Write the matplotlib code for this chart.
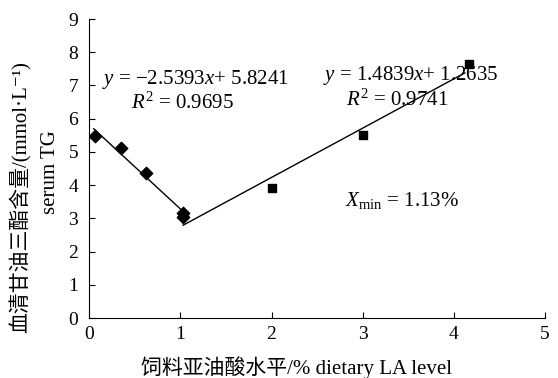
import matplotlib
matplotlib.use("Agg")
import matplotlib.pyplot as plt
import numpy as np

plt.rcParams["font.family"] = ["Liberation Serif", "Noto Sans CJK SC", "DejaVu Sans"]
plt.rcParams["mathtext.fontset"] = "custom"
plt.rcParams["mathtext.rm"] = "Liberation Serif"
plt.rcParams["mathtext.it"] = "Liberation Serif:italic"

# measured points
la_low = [0.06, 0.35, 0.62, 1.03, 1.03]
tg_low = [5.47, 5.13, 4.35, 3.15, 3.04]
la_high = [2.0, 3.0, 4.16]
tg_high = [3.9, 5.5, 7.65]

# fitted lines: slope, intercept, x range
fit_low = (-2.5393, 5.8241, 0.05, 1.03)
fit_high = (1.4839, 1.2635, 1.03, 4.12)

x_ticks = [0, 1, 2, 3, 4, 5]
y_ticks = [0, 1, 2, 3, 4, 5, 6, 7, 8, 9]

fig = plt.figure(figsize=(5.58, 3.78), dpi=100)
ax = fig.add_axes([0.1597, 0.1587, 0.8172, 0.791])

ax.scatter(la_low, tg_low, marker="D", s=40, color="black", zorder=5)
ax.scatter(la_high, tg_high, marker="s", s=32, color="black", zorder=5)

for k, b, x0, x1 in (fit_low, fit_high):
    xs = np.array([x0, x1])
    ax.plot(xs, k * xs + b, color="black", lw=1.0)

ax.set_xlim(0, 5)
ax.set_ylim(0, 9)
ax.set_xticks(x_ticks)
ax.set_yticks(y_ticks)
ax.tick_params(direction="in", length=4, width=0.8, labelsize=14)
ax.tick_params(axis="y", pad=8)
ax.tick_params(axis="x", pad=6)
for s in ("top", "right"):
    ax.spines[s].set_visible(False)
for s in ("left", "bottom"):
    ax.spines[s].set_linewidth(0.8)

fs = 15
ax.text(1.16, 7.17, r"$y$ = −2.5393$x$+ 5.8241", fontsize=fs, ha="center", va="center")
ax.text(1.02, 6.48, r"$R^2$ = 0.9695", fontsize=fs, ha="center", va="center")
ax.text(3.53, 7.29, r"$y$ = 1.4839$x$+ 1.2635", fontsize=fs, ha="center", va="center")
ax.text(3.38, 6.57, r"$R^2$ = 0.9741", fontsize=fs, ha="center", va="center")
ax.text(3.43, 3.55, r"$X_{\rm min}$ = 1.13%", fontsize=fs, ha="center", va="center")

fig.text(0.037, 0.479, "血清甘油三酯含量/(mmol·L⁻¹)", rotation=90,
         fontsize=15, ha="center", va="center")
fig.text(0.09, 0.545, "serum TG", rotation=90, fontsize=15,
         ha="center", va="center")
fig.text(0.532, 0.027, "饲料亚油酸水平/% dietary LA level", fontsize=15,
         ha="center", va="center")

fig.savefig("out.png", dpi=100)
